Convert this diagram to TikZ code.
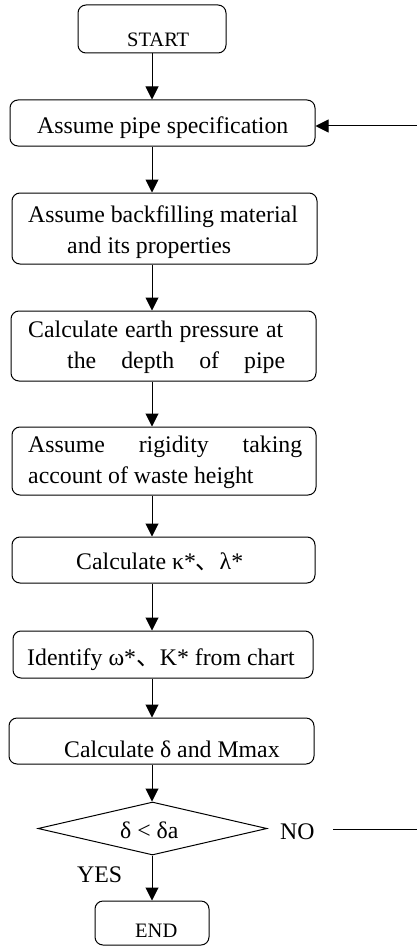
\documentclass[tikz,border=0pt]{standalone}
\usepackage{fontspec}
\setmainfont{Liberation Serif}
\newfontfamily\cjkf{Noto Sans CJK SC}
\usetikzlibrary{arrows.meta,shapes.geometric}
\begin{document}
\begin{tikzpicture}[x=1pt,y=-1pt,
  box/.style={draw,line width=1pt,rounded corners=8pt,inner sep=0pt},
  txt/.style={inner sep=0pt,anchor=base west,font=\fontsize{23.8}{28}\selectfont},
  smalltxt/.style={inner sep=0pt,anchor=base west,font=\fontsize{20.5}{24}\selectfont},
  arr/.style={-{Triangle[width=13pt,length=13pt]},line width=1pt},
  plain/.style={line width=1pt}]
\useasboundingbox (0,0) rectangle (417,947);
\coordinate (axis) at (152,0);
% boxes
\node[box,minimum width=148pt,minimum height=48pt] (start) at (152,29) {};
\node[box,minimum width=305pt,minimum height=46pt] (b1) at (162.5,123) {};
\node[box,minimum width=305pt,minimum height=71pt] (b2) at (164.5,228.5) {};
\node[box,minimum width=305pt,minimum height=70pt] (b3) at (163.5,346) {};
\node[box,minimum width=304pt,minimum height=68pt] (b4) at (164,461) {};
\node[box,minimum width=303pt,minimum height=46pt] (b5) at (163.5,560) {};
\node[box,minimum width=300pt,minimum height=47pt] (b6) at (163,654.5) {};
\node[box,minimum width=305pt,minimum height=46pt] (b7) at (161.5,741) {};
\node[draw,line width=1pt,shape=diamond,inner sep=0pt,minimum width=229pt,minimum height=53pt] (dec) at (152.5,828.5) {};
\node[box,minimum width=114pt,minimum height=44pt] (end) at (152,923) {};
% texts
\node[smalltxt] (tstart) at (127,47) {START};
\node[txt] (t1) at (37,133) {Assume pipe specification};
\node[txt] (t2a) at (28,222) {Assume backfilling material};
\node[txt] (t2b) at (67,253) {and its properties};
\node[txt] (t3a) at (28,337) {\makebox[255pt][s]{Calculate earth pressure at}};
\node[txt] (t3b) at (67,368) {\makebox[218pt][s]{the depth of pipe}};
\node[txt] (t4a) at (28,452) {\makebox[274pt][s]{Assume rigidity taking}};
\node[txt] (t4b) at (28,483) {account of waste height};
\node[txt] (t5) at (76,569) {Calculate κ*{\cjkf 、}λ*};
\node[txt] (t6) at (27,665) {Identify ω*{\cjkf 、}K* from chart};
\node[txt] (t7) at (64,757) {Calculate δ and Mmax};
\node[txt] (tdec) at (120,838) {δ < δa};
\node[txt] (tno) at (280,839) {NO};
\node[txt] (tyes) at (77,882) {YES};
\node[smalltxt] (tend) at (135,937) {END};
% connectors
\draw[arr] (axis |- start.south) -- (axis |- b1.north);
\draw[arr] (axis |- b1.south) -- (axis |- b2.north);
\draw[arr] (axis |- b2.south) -- (axis |- b3.north);
\draw[arr] (axis |- b3.south) -- (axis |- b4.north);
\draw[arr] (axis |- b4.south) -- (axis |- b5.north);
\draw[arr] (axis |- b5.south) -- (axis |- b6.north);
\draw[arr] (axis |- b6.south) -- (axis |- b7.north);
\draw[arr] (axis |- b7.south) -- (axis |- dec.north);
\draw[arr] (axis |- dec.south) -- (axis |- end.north);
\coordinate (fb) at (417,126);
\draw[arr] (fb) -- (fb -| b1.east);
\coordinate (noL) at (333,829);
\coordinate (noR) at (417,829);
\draw[plain] (noL) -- (noR);
\end{tikzpicture}
\end{document}
